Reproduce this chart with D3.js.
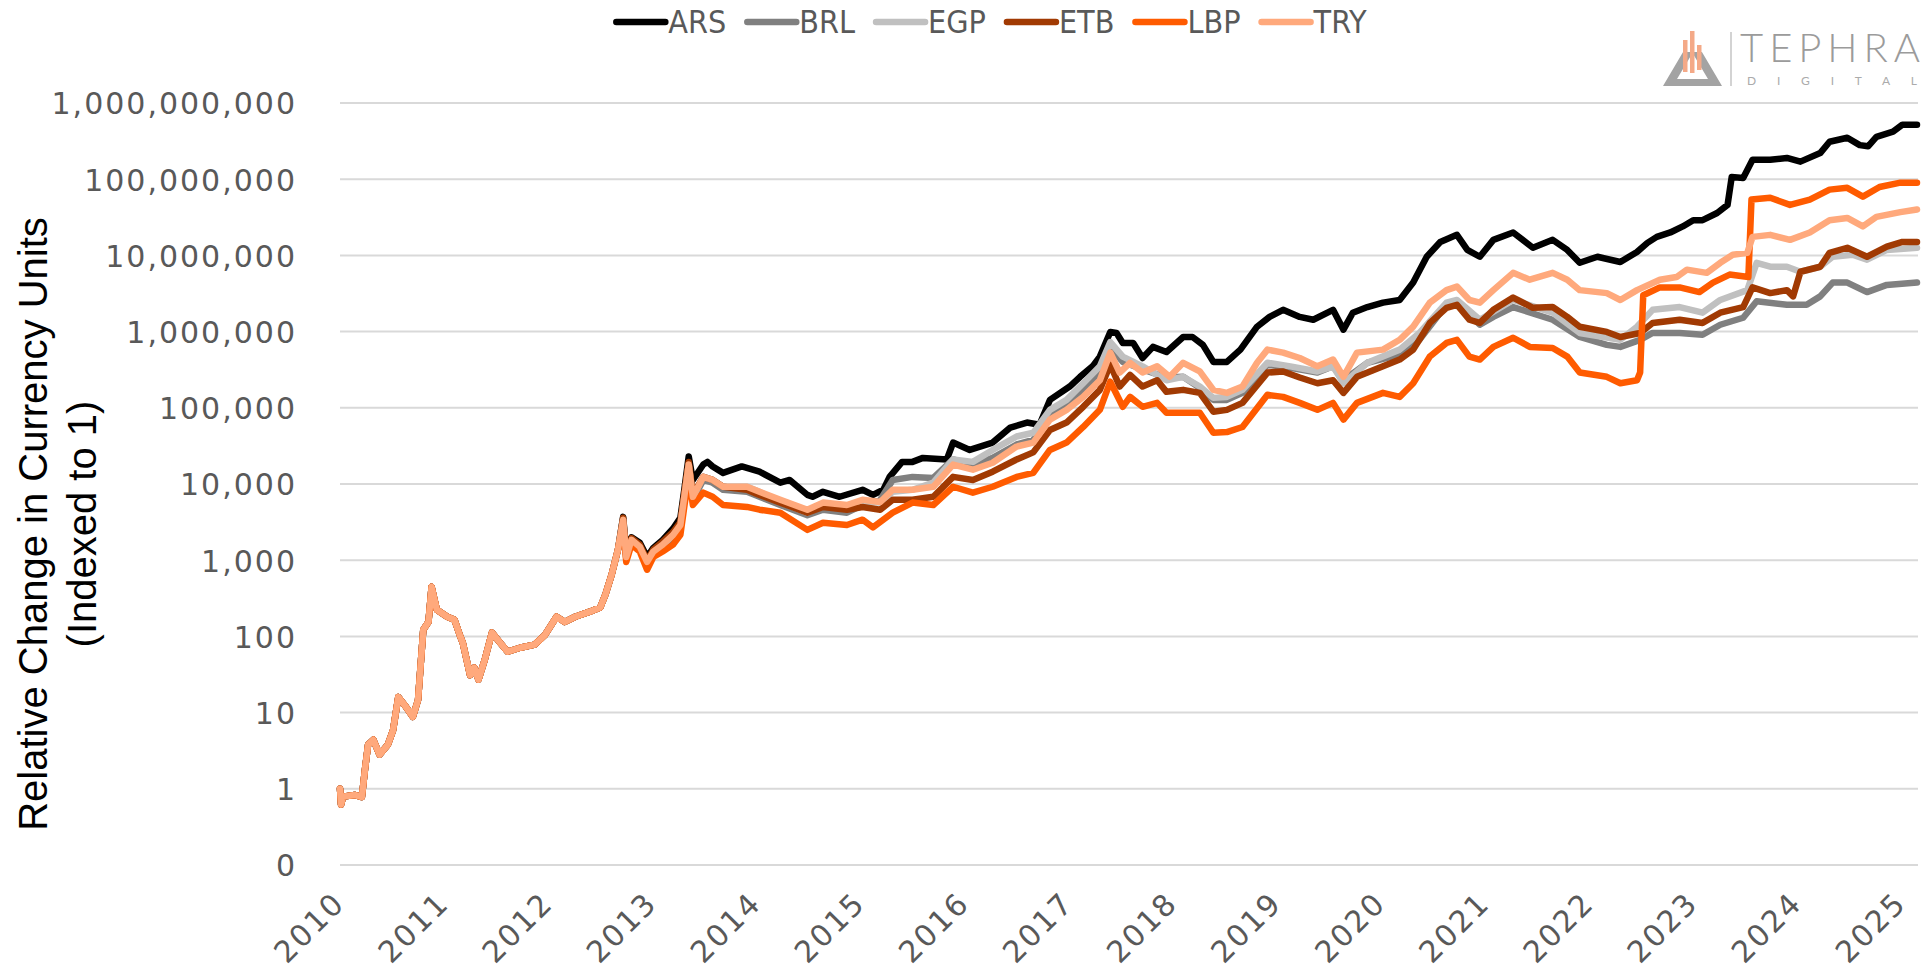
<!DOCTYPE html>
<html>
<head>
<meta charset="utf-8">
<title>Relative change in currency units</title>
<script src="https://cdn.jsdelivr.net/npm/d3@7"></script>
<style>
  html, body { margin: 0; padding: 0; background: #fff; }
  svg { display: block; }
  .tick-label { font-family: "DejaVu Sans", sans-serif; font-size: 30px; fill: #595959; letter-spacing: 2px; }
  .legend-label { font-family: "Liberation Sans Narrow", "DejaVu Sans Condensed", "Liberation Sans", sans-serif; font-size: 32px; fill: #595959; }
  .axis-title { font-family: "Liberation Sans", Arial, sans-serif; font-size: 40px; fill: #000; }
  .grid line { stroke: #d9d9d9; stroke-width: 2; }
</style>
</head>
<body>
<div id="chart"></div>
<script>
(function (d3) {

  "use strict";

  // -- data --

  var currencies = ["ARS", "BRL", "EGP", "ETB", "LBP", "TRY"];

  var yTickValues = [0.1, 1, 10, 100, 1e3, 1e4, 1e5, 1e6, 1e7, 1e8, 1e9];
  var xTickYears = [2010, 2011, 2012, 2013, 2014, 2015, 2016, 2017, 2018, 2019, 2020, 2021, 2022, 2023, 2024, 2025];

  // series start on 2010-07-17 (= 2010.54), ticks fall on each anniversary
  var startOffset = 0.54;

  // all six series overlap until spring 2013
  var earlyData = [
    [2010.54, 1.0], [2010.55, 0.62], [2010.57, 0.79], [2010.68, 0.83], [2010.75, 0.78],
    [2010.78, 1.8], [2010.81, 3.8], [2010.86, 4.4], [2010.92, 2.8], [2011.00, 3.8],
    [2011.05, 5.9], [2011.10, 16], [2011.16, 12.6], [2011.24, 8.8], [2011.29, 14.7],
    [2011.34, 122], [2011.39, 155], [2011.42, 447], [2011.47, 224], [2011.57, 181],
    [2011.64, 165], [2011.69, 105], [2011.72, 82], [2011.79, 31], [2011.83, 39],
    [2011.87, 27], [2011.93, 49], [2012.00, 112], [2012.08, 82], [2012.15, 63],
    [2012.27, 71], [2012.41, 78], [2012.51, 105], [2012.62, 181], [2012.70, 155],
    [2012.80, 181], [2012.94, 211], [2013.04, 240], [2013.09, 355], [2013.15, 650],
    [2013.21, 1370]
  ];

  var arsData = [
    [2013.26, 3700], [2013.29, 1300], [2013.34, 2000], [2013.42, 1700], [2013.49, 1100],
    [2013.55, 1450], [2013.64, 1850], [2013.74, 2600], [2013.81, 3600], [2013.85, 8900],
    [2013.89, 23000], [2013.93, 11300], [2014.03, 18000], [2014.07, 19500], [2014.12, 17000],
    [2014.22, 14000], [2014.40, 17000], [2014.57, 14500], [2014.77, 10400], [2014.86, 11300],
    [2015.03, 7200], [2015.08, 6800], [2015.18, 7900], [2015.34, 6800], [2015.56, 8400],
    [2015.66, 7200], [2015.76, 8400], [2015.82, 12400], [2015.94, 19500], [2016.04, 19500],
    [2016.14, 22000], [2016.37, 21000], [2016.43, 35000], [2016.59, 28000], [2016.81, 35000],
    [2016.98, 55000], [2017.14, 64000], [2017.26, 60000], [2017.36, 127000], [2017.55, 190000],
    [2017.65, 255000], [2017.77, 350000], [2017.84, 470000], [2017.94, 990000], [2018.00, 960000],
    [2018.06, 710000], [2018.16, 710000], [2018.25, 450000], [2018.35, 630000], [2018.48, 540000],
    [2018.64, 850000], [2018.73, 850000], [2018.83, 670000], [2018.93, 400000], [2019.06, 400000],
    [2019.19, 580000], [2019.35, 1.16e6], [2019.47, 1.56e6], [2019.60, 1.93e6], [2019.76, 1.56e6],
    [2019.89, 1.43e6], [2020.08, 1.93e6], [2020.18, 1.06e6], [2020.27, 1.77e6], [2020.41, 2.1e6],
    [2020.56, 2.4e6], [2020.72, 2.6e6], [2020.85, 4.4e6], [2020.98, 9.6e6], [2021.11, 1.5e7],
    [2021.27, 1.86e7], [2021.37, 1.18e7], [2021.49, 9.6e6], [2021.62, 1.6e7], [2021.81, 2.0e7],
    [2022.00, 1.26e7], [2022.19, 1.6e7], [2022.33, 1.18e7], [2022.45, 8.0e6], [2022.62, 9.6e6],
    [2022.84, 8.2e6], [2023.00, 1.11e7], [2023.10, 1.46e7], [2023.19, 1.75e7], [2023.32, 2.0e7],
    [2023.44, 2.4e7], [2023.54, 2.9e7], [2023.63, 2.9e7], [2023.77, 3.6e7], [2023.87, 4.6e7],
    [2023.91, 1.07e8], [2024.02, 1.04e8], [2024.11, 1.8e8], [2024.28, 1.8e8], [2024.44, 1.9e8],
    [2024.57, 1.7e8], [2024.76, 2.2e8], [2024.85, 3.1e8], [2025.02, 3.5e8], [2025.14, 2.8e8],
    [2025.22, 2.7e8], [2025.30, 3.6e8], [2025.46, 4.2e8], [2025.55, 5.2e8], [2025.69, 5.2e8]
  ];

  var brlData = [
    [2013.26, 3150], [2013.29, 1050], [2013.34, 1750], [2013.42, 1400], [2013.49, 900],
    [2013.55, 1200], [2013.64, 1500], [2013.74, 2000], [2013.81, 2700], [2013.85, 6800],
    [2013.89, 17000], [2013.93, 6200], [2014.03, 11300], [2014.12, 10400], [2014.22, 8400],
    [2014.45, 7900], [2014.57, 6800], [2014.77, 5300], [2015.03, 3900], [2015.18, 4600],
    [2015.41, 4200], [2015.56, 5300], [2015.73, 6200], [2015.85, 11300], [2016.04, 12400],
    [2016.24, 12000], [2016.43, 21000], [2016.62, 18000], [2016.81, 22000], [2017.04, 33000],
    [2017.20, 38000], [2017.36, 76000], [2017.52, 109000], [2017.68, 172000], [2017.84, 270000],
    [2017.94, 630000], [2018.06, 400000], [2018.25, 320000], [2018.48, 250000], [2018.64, 255000],
    [2018.80, 183000], [2018.93, 127000], [2019.06, 127000], [2019.21, 157000], [2019.45, 370000],
    [2019.67, 335000], [2019.93, 290000], [2020.08, 350000], [2020.18, 230000], [2020.41, 390000],
    [2020.72, 500000], [2020.91, 780000], [2021.17, 2.25e6], [2021.27, 2.4e6], [2021.49, 1.23e6],
    [2021.62, 1.56e6], [2021.81, 2.1e6], [2022.19, 1.43e6], [2022.45, 850000], [2022.71, 670000],
    [2022.84, 630000], [2023.03, 780000], [2023.15, 960000], [2023.41, 960000], [2023.63, 910000],
    [2023.80, 1.23e6], [2024.02, 1.52e6], [2024.15, 2.5e6], [2024.44, 2.25e6], [2024.63, 2.25e6],
    [2024.76, 2.9e6], [2024.88, 4.4e6], [2025.02, 4.4e6], [2025.21, 3.3e6], [2025.40, 4.1e6],
    [2025.69, 4.4e6]
  ];

  var egpData = [
    [2013.26, 3400], [2013.29, 1100], [2013.34, 1850], [2013.42, 1500], [2013.49, 950],
    [2013.55, 1300], [2013.64, 1600], [2013.74, 2150], [2013.81, 2900], [2013.85, 7200],
    [2013.89, 18000], [2013.93, 6800], [2014.03, 12400], [2014.12, 11300], [2014.22, 9200],
    [2014.45, 9200], [2014.57, 7900], [2014.77, 5800], [2015.03, 4200], [2015.18, 5300],
    [2015.41, 5000], [2015.56, 5800], [2015.73, 5700], [2015.85, 7900], [2016.04, 8400],
    [2016.24, 10400], [2016.43, 21000], [2016.62, 19500], [2016.81, 28000], [2017.04, 42000],
    [2017.20, 47000], [2017.36, 94000], [2017.52, 127000], [2017.68, 210000], [2017.84, 350000],
    [2017.94, 730000], [2018.06, 470000], [2018.25, 350000], [2018.48, 230000], [2018.64, 255000],
    [2018.80, 190000], [2018.93, 135000], [2019.06, 139000], [2019.21, 172000], [2019.45, 390000],
    [2019.67, 350000], [2019.93, 300000], [2020.08, 350000], [2020.18, 210000], [2020.41, 390000],
    [2020.72, 580000], [2020.91, 960000], [2021.17, 2.4e6], [2021.27, 2.6e6], [2021.49, 1.43e6],
    [2021.81, 2.6e6], [2022.19, 1.77e6], [2022.45, 960000], [2022.84, 780000], [2023.00, 1.16e6],
    [2023.15, 1.93e6], [2023.41, 2.1e6], [2023.63, 1.77e6], [2023.80, 2.6e6], [2024.06, 3.5e6],
    [2024.15, 8.0e6], [2024.28, 7.1e6], [2024.44, 7.1e6], [2024.57, 6.1e6], [2024.76, 7.1e6],
    [2024.88, 9.6e6], [2025.07, 1.02e7], [2025.21, 8.8e6], [2025.40, 1.18e7], [2025.69, 1.26e7]
  ];

  var etbData = [
    [2013.26, 3600], [2013.29, 1150], [2013.34, 1950], [2013.42, 1600], [2013.49, 1000],
    [2013.55, 1380], [2013.64, 1750], [2013.74, 2350], [2013.81, 3150], [2013.85, 7900],
    [2013.89, 19500], [2013.93, 7200], [2014.03, 12400], [2014.12, 11300], [2014.22, 9200],
    [2014.45, 8400], [2014.57, 7200], [2014.77, 5700], [2015.03, 4200], [2015.18, 5000],
    [2015.41, 4600], [2015.56, 5000], [2015.73, 4600], [2015.85, 6200], [2016.04, 6200],
    [2016.24, 6800], [2016.43, 12400], [2016.62, 11300], [2016.81, 14500], [2017.04, 21000],
    [2017.20, 26000], [2017.36, 51000], [2017.52, 64000], [2017.68, 103000], [2017.84, 172000],
    [2017.94, 370000], [2018.03, 190000], [2018.13, 270000], [2018.25, 190000], [2018.39, 230000],
    [2018.48, 162000], [2018.64, 172000], [2018.80, 157000], [2018.93, 89000], [2019.06, 94000],
    [2019.21, 116000], [2019.45, 290000], [2019.60, 300000], [2019.76, 250000], [2019.93, 210000],
    [2020.08, 230000], [2020.18, 157000], [2020.31, 255000], [2020.56, 350000], [2020.72, 430000],
    [2020.85, 580000], [2021.01, 1.3e6], [2021.17, 2.05e6], [2021.27, 2.25e6], [2021.39, 1.43e6],
    [2021.49, 1.3e6], [2021.62, 1.93e6], [2021.81, 2.8e6], [2022.00, 2.05e6], [2022.19, 2.1e6],
    [2022.33, 1.56e6], [2022.45, 1.16e6], [2022.71, 990000], [2022.84, 850000], [2023.03, 960000],
    [2023.15, 1.3e6], [2023.41, 1.43e6], [2023.63, 1.3e6], [2023.80, 1.77e6], [2024.02, 2.1e6],
    [2024.11, 3.8e6], [2024.28, 3.2e6], [2024.44, 3.5e6], [2024.50, 2.9e6], [2024.57, 6.1e6],
    [2024.76, 7.1e6], [2024.85, 1.08e7], [2025.02, 1.26e7], [2025.21, 9.6e6], [2025.40, 1.3e7],
    [2025.55, 1.5e7], [2025.69, 1.5e7]
  ];

  var lbpData = [
    [2013.26, 2900], [2013.29, 950], [2013.34, 1600], [2013.42, 1300], [2013.49, 750],
    [2013.55, 1100], [2013.64, 1300], [2013.74, 1600], [2013.81, 2150], [2013.85, 5300],
    [2013.89, 12400], [2013.93, 5300], [2014.03, 7700], [2014.12, 6800], [2014.22, 5300],
    [2014.45, 5000], [2014.57, 4600], [2014.77, 4200], [2015.03, 2500], [2015.18, 3100],
    [2015.41, 2900], [2015.56, 3400], [2015.66, 2700], [2015.85, 4200], [2016.04, 5700],
    [2016.24, 5300], [2016.43, 9200], [2016.62, 7700], [2016.81, 9200], [2017.04, 12400],
    [2017.20, 14000], [2017.36, 28000], [2017.52, 35000], [2017.68, 56000], [2017.84, 94000],
    [2017.94, 220000], [2018.06, 103000], [2018.13, 139000], [2018.25, 103000], [2018.39, 116000],
    [2018.48, 86000], [2018.64, 86000], [2018.80, 86000], [2018.93, 47000], [2019.06, 48000],
    [2019.21, 56000], [2019.45, 148000], [2019.60, 139000], [2019.76, 116000], [2019.93, 94000],
    [2020.08, 116000], [2020.18, 70000], [2020.31, 116000], [2020.56, 157000], [2020.72, 139000],
    [2020.85, 210000], [2021.01, 470000], [2021.17, 710000], [2021.27, 780000], [2021.39, 470000],
    [2021.49, 430000], [2021.62, 630000], [2021.81, 830000], [2021.97, 630000], [2022.19, 610000],
    [2022.33, 470000], [2022.45, 290000], [2022.71, 255000], [2022.84, 210000], [2023.00, 230000],
    [2023.03, 290000], [2023.06, 3.0e6], [2023.22, 3.8e6], [2023.41, 3.8e6], [2023.60, 3.3e6],
    [2023.73, 4.4e6], [2023.89, 5.6e6], [2024.07, 5.2e6], [2024.10, 5.4e7], [2024.28, 5.7e7],
    [2024.47, 4.6e7], [2024.66, 5.4e7], [2024.85, 7.3e7], [2025.02, 7.7e7], [2025.17, 5.9e7],
    [2025.33, 7.9e7], [2025.53, 9.0e7], [2025.69, 9.0e7]
  ];

  var tryData = [
    [2013.26, 3400], [2013.29, 1100], [2013.34, 1850], [2013.42, 1500], [2013.49, 950],
    [2013.55, 1300], [2013.64, 1600], [2013.74, 2150], [2013.81, 2900], [2013.85, 7200],
    [2013.89, 18000], [2013.93, 6800], [2014.03, 12400], [2014.12, 11300], [2014.22, 9200],
    [2014.45, 9200], [2014.57, 7900], [2014.77, 6200], [2015.03, 4600], [2015.18, 5700],
    [2015.41, 5300], [2015.56, 6200], [2015.73, 5800], [2015.85, 8400], [2016.04, 8400],
    [2016.24, 9200], [2016.43, 18000], [2016.62, 15400], [2016.81, 19000], [2017.04, 31000],
    [2017.20, 35000], [2017.36, 70000], [2017.52, 94000], [2017.68, 139000], [2017.84, 230000],
    [2017.94, 530000], [2018.03, 290000], [2018.13, 390000], [2018.25, 290000], [2018.39, 350000],
    [2018.51, 255000], [2018.64, 390000], [2018.80, 300000], [2018.93, 172000], [2019.06, 157000],
    [2019.21, 190000], [2019.35, 390000], [2019.45, 580000], [2019.60, 530000], [2019.76, 450000],
    [2019.93, 350000], [2020.08, 430000], [2020.18, 255000], [2020.31, 530000], [2020.56, 580000],
    [2020.72, 780000], [2020.85, 1.16e6], [2021.01, 2.4e6], [2021.17, 3.5e6], [2021.27, 3.9e6],
    [2021.39, 2.6e6], [2021.49, 2.4e6], [2021.62, 3.5e6], [2021.81, 5.9e6], [2021.97, 4.8e6],
    [2022.19, 5.9e6], [2022.33, 4.8e6], [2022.45, 3.5e6], [2022.71, 3.2e6], [2022.84, 2.6e6],
    [2023.00, 3.5e6], [2023.22, 4.8e6], [2023.38, 5.2e6], [2023.48, 6.5e6], [2023.67, 5.9e6],
    [2023.80, 8.0e6], [2023.92, 1.02e7], [2024.06, 1.08e7], [2024.11, 1.75e7], [2024.28, 1.86e7],
    [2024.47, 1.6e7], [2024.66, 2.0e7], [2024.85, 2.9e7], [2025.02, 3.1e7], [2025.17, 2.4e7],
    [2025.30, 3.2e7], [2025.53, 3.7e7], [2025.69, 4.0e7]
  ];

  var seriesTails = [arsData, brlData, egpData, etbData, lbpData, tryData];

  // -- styling --

  var colors = {
    ARS: "#000000",
    BRL: "#808080",
    EGP: "#c0c0c0",
    ETB: "#a13a03",
    LBP: "#ff5b00",
    TRY: "#ffa97c"
  };

  var width = 1921, height = 973;
  var margin = { left: 340, right: 3, top: 103, bottom: 108 };

  var svg = d3.select("#chart").append("svg")
              .attr("width", width)
              .attr("height", height);

  var x = d3.scaleLinear()
            .domain([2010 + startOffset, 2025.69])
            .range([margin.left, width - margin.right - 1]);

  var y = d3.scaleLog()
            .domain([0.1, 1e9])
            .range([height - margin.bottom, margin.top]);

  var fmt = d3.format(",.0f");

  // horizontal gridlines
  svg.append("g")
     .attr("class", "grid")
     .selectAll("line")
     .data(yTickValues)
     .enter().append("line")
     .attr("x1", margin.left)
     .attr("x2", width - margin.right)
     .attr("y1", function (d) { return y(d); })
     .attr("y2", function (d) { return y(d); });

  // y axis (labels only, Excel style)
  var yAxis = d3.axisLeft(y)
                .tickValues(yTickValues)
                .tickFormat(function (d) { return fmt(d); })
                .tickSize(0)
                .tickPadding(0);

  var yG = svg.append("g")
              .attr("transform", "translate(" + (margin.left - 43) + ",0)")
              .call(yAxis);
  yG.select(".domain").remove();
  yG.selectAll("text")
    .attr("class", "tick-label")
    .attr("dy", "0.36em")
    .attr("font-size", null)
    .attr("font-family", null)
    .attr("fill", null);

  // x axis: one tick per anniversary of the start date
  var xAxis = d3.axisBottom(x)
                .tickValues(xTickYears.map(function (yr) { return yr + startOffset; }))
                .tickFormat(function (d) { return String(Math.round(d - startOffset)); })
                .tickSize(0)
                .tickPadding(0);

  var xG = svg.append("g")
              .attr("transform", "translate(0," + (height - margin.bottom) + ")")
              .call(xAxis);
  xG.select(".domain").remove();
  xG.selectAll("text")
    .attr("class", "tick-label")
    .attr("font-size", null)
    .attr("font-family", null)
    .attr("fill", null)
    .attr("text-anchor", "end")
    .attr("dy", null)
    .attr("y", 0)
    .attr("transform", "translate(6,40) rotate(-45)");

  // lines
  var line = d3.line()
               .x(function (d) { return x(d[0]); })
               .y(function (d) { return y(d[1]); });

  svg.append("g")
     .selectAll("path")
     .data(currencies)
     .enter().append("path")
     .attr("d", function (c, i) { return line(earlyData.concat(seriesTails[i])); })
     .attr("fill", "none")
     .attr("stroke", function (c) { return colors[c]; })
     .attr("stroke-width", 6.5)
     .attr("stroke-linejoin", "round")
     .attr("stroke-linecap", "round");

  // y axis title
  var title = svg.append("text")
                 .attr("class", "axis-title")
                 .attr("text-anchor", "middle")
                 .attr("transform", "translate(47,524) rotate(-90)");
  title.append("tspan").attr("x", 0).attr("y", 0).text("Relative Change in Currency Units");
  title.append("tspan").attr("x", 0).attr("y", 49).text("(Indexed to 1)");

  // legend along the top
  var legend = svg.append("g").attr("class", "legend");
  var lx = 0;
  currencies.forEach(function (c) {
    var item = legend.append("g").attr("transform", "translate(" + lx + ",0)");
    item.append("line")
        .attr("x1", 3).attr("x2", 52)
        .attr("y1", 0).attr("y2", 0)
        .attr("stroke", colors[c])
        .attr("stroke-width", 6.5)
        .attr("stroke-linecap", "round");
    var t = item.append("text")
                .attr("class", "legend-label")
                .attr("x", 55)
                .attr("y", 11)
                .text(c);
    lx += 55 + t.node().getComputedTextLength() + 18;
  });
  legend.attr("transform", "translate(" + (990 - (lx - 18) / 2) + ",22)");

  // Tephra Digital logo, top right
  var logo = svg.append("g").attr("class", "logo");
  logo.append("path")
      .attr("d", "M1663,86 L1692.5,36 L1722,86 Z M1677,79 L1708,79 L1692.5,53 Z")
      .attr("fill", "#a3a3a3")
      .attr("fill-rule", "evenodd");
  logo.append("rect")
      .attr("x", 1674).attr("y", 30).attr("width", 38).attr("height", 22)
      .attr("fill", "#fff");
  [[1683, 40, 32], [1690, 31, 42], [1697, 45, 25]].forEach(function (b) {
    logo.append("rect")
        .attr("x", b[0]).attr("y", b[1]).attr("width", 4.5).attr("height", b[2])
        .attr("fill", "#f4a987");
  });
  logo.append("line")
      .attr("x1", 1731).attr("x2", 1731).attr("y1", 32).attr("y2", 86)
      .attr("stroke", "#c4c4c4").attr("stroke-width", 1.5);
  logo.append("text")
      .attr("x", 1740).attr("y", 62)
      .attr("textLength", 180).attr("lengthAdjust", "spacing")
      .style("font-family", "Lato, 'Liberation Sans', sans-serif")
      .style("font-weight", 300)
      .style("font-size", "40px")
      .style("fill", "#9b9b9b")
      .text("TEPHRA");
  logo.append("text")
      .attr("x", 1747).attr("y", 85)
      .attr("textLength", 170).attr("lengthAdjust", "spacing")
      .style("font-family", "Lato, 'Liberation Sans', sans-serif")
      .style("font-size", "12px")
      .style("fill", "#ababab")
      .text("DIGITAL");

}(d3));
</script>
</body>
</html>
